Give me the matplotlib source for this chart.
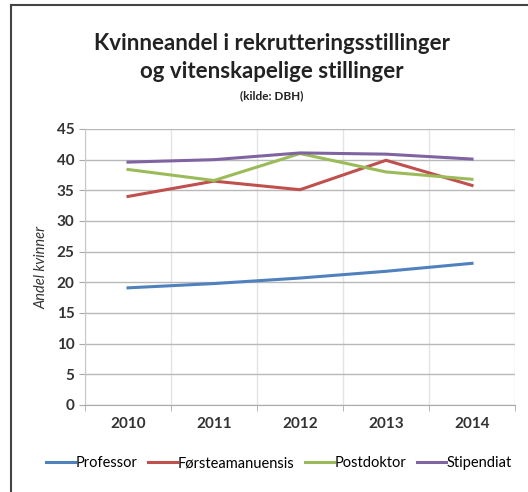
import matplotlib
matplotlib.use("Agg")
import matplotlib.pyplot as plt
from matplotlib.lines import Line2D

# Data
years = ["2010", "2011", "2012", "2013", "2014"]
professor = [19.1, 19.8, 20.7, 21.8, 23.1]
forsteamanuensis = [34.0, 36.5, 35.1, 39.9, 35.8]
postdoktor = [38.4, 36.6, 41.0, 38.0, 36.8]
stipendiat = [39.6, 40.0, 41.1, 40.9, 40.1]

series_names = ["Professor", "Førsteamanuensis", "Postdoktor", "Stipendiat"]
colors = ["#4F81BD", "#C0504D", "#9BBB59", "#8064A2"]

plt.rcParams['font.family'] = ['Lato', 'DejaVu Sans']

fig = plt.figure(figsize=(5.28, 4.92), dpi=100)
ax = fig.add_axes([85 / 528, 1 - 405 / 492, 430 / 528, 276 / 492])

x = list(range(len(years)))
for vals, name, c in zip([professor, forsteamanuensis, postdoktor, stipendiat],
                         series_names, colors):
    ax.plot(x, vals, color=c, lw=2.2, label=name)

ax.set_xlim(-0.5, len(years) - 0.5)
ax.set_ylim(0, 45)
ax.set_yticks(range(0, 46, 5))
ax.set_xticks(x)
ax.set_xticklabels(years, fontsize=11, fontweight="bold", color="#333333")
ax.set_xticks([i - 0.5 for i in range(len(years) + 1)], minor=True)
ax.tick_params(axis="x", which="major", length=0, pad=9)
ax.tick_params(axis="x", which="minor", length=4, color="#aaaaaa")
ax.tick_params(axis="y", length=4, color="#aaaaaa", labelsize=11, labelcolor="#333333")
for lab in ax.get_yticklabels():
    lab.set_fontweight("bold")

ax.grid(axis="y", color="#b8b8b8", lw=1)
ax.grid(axis="x", which="minor", color="#e4e4e4", lw=1)
ax.set_axisbelow(True)
for side in ["top", "right"]:
    ax.spines[side].set_visible(False)
ax.spines["left"].set_color("#c8c8c8")
ax.spines["bottom"].set_color("#aaaaaa")

ax.set_ylabel("Andel kvinner", fontsize=10.5, style="italic", color="#333333", labelpad=6)

fig.text(0.515, 1 - 44 / 492, "Kvinneandel i rekrutteringsstillinger",
         ha="center", va="center", fontsize=16, fontweight="bold", color="#222222")
fig.text(0.515, 1 - 72 / 492, "og vitenskapelige stillinger",
         ha="center", va="center", fontsize=16, fontweight="bold", color="#222222")
fig.text(0.515, 1 - 96 / 492, "(kilde: DBH)",
         ha="center", va="center", fontsize=8.5, fontweight="bold", color="#222222")

fig.legend(loc="center", bbox_to_anchor=(0.528, 1 - 463 / 492), ncol=4, frameon=False,
           fontsize=10.5, handlelength=2.0, handletextpad=0.05, columnspacing=0.7,
           borderpad=0, borderaxespad=0)

# Frame of the pasted picture (left and top only)
fig.lines.append(Line2D([11 / 528, 11 / 528], [0, 1 - 5 / 492], transform=fig.transFigure,
                        color="#444444", lw=1.5))
fig.lines.append(Line2D([11 / 528, 1], [1 - 5 / 492, 1 - 5 / 492], transform=fig.transFigure,
                        color="#444444", lw=1.5))

fig.savefig("out.png", dpi=100)
